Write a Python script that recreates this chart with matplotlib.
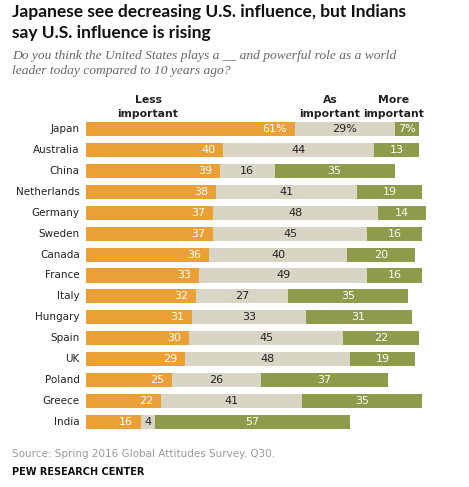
import matplotlib.pyplot as plt

countries = ['Japan', 'Australia', 'China', 'Netherlands', 'Germany', 'Sweden', 'Canada',
             'France', 'Italy', 'Hungary', 'Spain', 'UK', 'Poland', 'Greece', 'India']
less = [61, 40, 39, 38, 37, 37, 36, 33, 32, 31, 30, 29, 25, 22, 16]
same = [29, 44, 16, 41, 48, 45, 40, 49, 27, 33, 45, 48, 26, 41, 4]
more = [7, 13, 35, 19, 14, 16, 20, 16, 35, 31, 22, 19, 37, 35, 57]

c_less = '#EAA034'
c_same = '#D8D5C5'
c_more = '#8E9B4A'

W, H = 469, 487
fig = plt.figure(figsize=(W / 100, H / 100), dpi=100)
ax = fig.add_axes([86 / W, 1 - 432.5 / H, 343 / W, 314 / H])

y = list(range(len(countries)))
h = 0.67
ax.barh(y, less, height=h, color=c_less, linewidth=0)
ax.barh(y, same, left=less, height=h, color=c_same, linewidth=0)
left3 = [a + b for a, b in zip(less, same)]
ax.barh(y, more, left=left3, height=h, color=c_more, linewidth=0)

for i in y:
    suf = '%' if i == 0 else ''
    ax.text(less[i] - 2.3, i, f'{less[i]}{suf}', ha='right', va='center',
            color='white', fontsize=8)
    ax.text(less[i] + same[i] / 2, i, f'{same[i]}{suf}', ha='center', va='center',
            color='#222222', fontsize=8)
    ax.text(left3[i] + more[i] / 2, i, f'{more[i]}{suf}', ha='center', va='center',
            color='white', fontsize=8)
    ax.text(-1.8, i, countries[i], ha='right', va='center', color='#222222',
            fontsize=7.5)

ax.set_xlim(0, 100)
ax.set_ylim(len(countries) - 0.5, -0.5)
ax.axis('off')

# column headers
hdr = dict(ha='center', va='bottom', fontsize=7.8, fontweight='bold', color='#222222',
           linespacing=1.55)
fig.text(148 / W, 1 - 119 / H, 'Less\nimportant', **hdr)
fig.text(330 / W, 1 - 119 / H, 'As\nimportant', **hdr)
fig.text(394 / W, 1 - 119 / H, 'More\nimportant', **hdr)

fig.text(12 / W, 1 - 4 / H, 'Japanese see decreasing U.S. influence, but Indians\nsay U.S. influence is rising',
         ha='left', va='top', fontsize=12.5, fontweight='bold', color='#111111',
         family='Lato', linespacing=1.4)
fig.text(12 / W, 1 - 50 / H, 'Do you think the United States plays a __ and powerful role as a world\nleader today compared to 10 years ago?',
         ha='left', va='top', fontsize=9.7, style='italic', color='#666666',
         family='Liberation Serif', linespacing=1.3)

fig.text(12 / W, 1 - 454 / H, 'Source: Spring 2016 Global Attitudes Survey. Q30.',
         ha='left', va='center', fontsize=7.5, color='#999999')
fig.text(12 / W, 1 - 472 / H, 'PEW RESEARCH CENTER', ha='left', va='center',
         fontsize=7, fontweight='bold', color='#111111')

fig.savefig('out.png', dpi=100, facecolor='white')
